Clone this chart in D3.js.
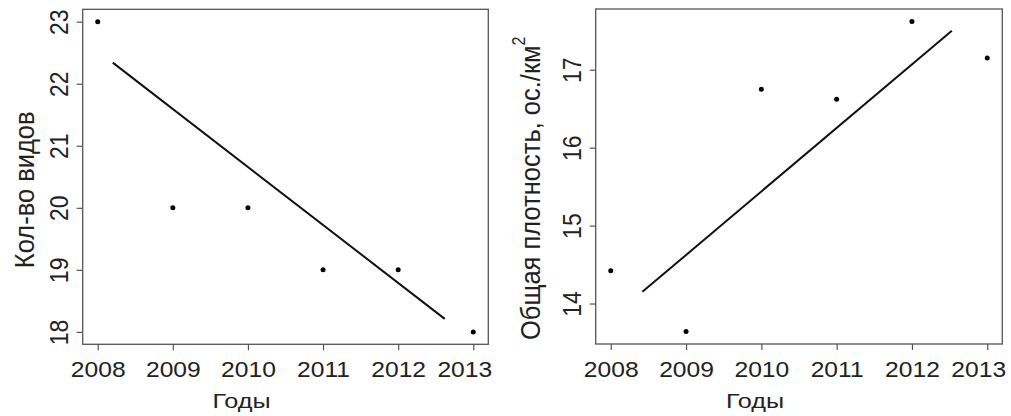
<!DOCTYPE html>
<html>
<head>
<meta charset="utf-8">
<script src="https://cdn.jsdelivr.net/npm/d3@7"></script>
<style>
  body { margin: 0; background: #fff; }
  text { font-family: "Liberation Sans", Arial, sans-serif; fill: #222; }
</style>
</head>
<body>
<div id="chart"></div>
<script>
// data
var years = [2008, 2009, 2010, 2011, 2012, 2013];
var speciesCount = [23, 20, 20, 19, 19, 18];
var density = [14.42, 13.64, 16.75, 16.62, 17.62, 17.15];

// ends of the fitted lines (x = year, y = value)
var speciesTrendX = [2008.2, 2012.62];
var speciesTrendY = [22.34, 18.21];
var densityTrendX = [2008.42, 2012.53];
var densityTrendY = [14.15, 17.5];

var xTicks = [2008, 2009, 2010, 2011, 2012, 2013];
var speciesTicks = [18, 19, 20, 21, 22, 23];
var densityTicks = [14, 15, 16, 17];

var xTitle = "Годы";
var speciesTitle = "Кол-во видов";
var densityTitle = "Общая плотность, ос./км";

var stretch = 1.12;   // the picture is a bit wider than tall

/*
 * R-style domain: data range widened by 4 % on both sides
 */
function padded(values) {
	var ext = d3.extent(values);
	var d = (ext[1] - ext[0]) * 0.04;
	return [ext[0] - d, ext[1] + d];
}

/*
 * One scatter panel with a box, ticks and a trend line
 */
function ScatterPanel() {

	var left = 0, top = 0, width = 100, height = 100;
	var yValues, yTicks, trendX, trendY;
	var yLabel, yLabelX = 30, yLabelY = 180, yLabelAnchor = "middle", sup = null;

	function chart(selection) {
		selection.each(function() {

			var g = d3.select(this).append("g")
				.attr("transform", "translate(" + left + "," + top + ")");

			var x = d3.scaleLinear().domain(padded(years)).range([0, width]);
			var y = d3.scaleLinear().domain(padded(yValues)).range([height, 0]);

			// x axis
			var ax = g.append("g")
				.attr("transform", "translate(0," + height + ")")
				.call(d3.axisBottom(x).tickValues(xTicks).tickFormat(d3.format("d")).tickSize(6));
			ax.select(".domain").remove();
			ax.selectAll(".tick line").attr("stroke", "#555").attr("stroke-width", 1.2);
			ax.selectAll(".tick text")
				.attr("y", 33).attr("dy", null)
				.attr("transform", function(d, i, n) {
					// last label pulled in a little, as in the original
					var shift = i === n.length - 1 ? -9 : 0;
					return "translate(" + shift + ",0) scale(" + stretch + ",1)";
				})
				.style("font-size", "22px");

			// y axis, labels turned like in R
			var ay = g.append("g")
				.call(d3.axisLeft(y).tickValues(yTicks).tickFormat(d3.format("d")).tickSize(6));
			ay.select(".domain").remove();
			ay.selectAll(".tick line").attr("stroke", "#555").attr("stroke-width", 1.2);
			ay.selectAll(".tick text")
				.attr("x", null).attr("dy", null)
				.attr("text-anchor", "middle")
				.attr("transform", "translate(-15,0) scale(" + stretch + ",1) rotate(-90)")
				.style("font-size", "23px");

			// box
			g.append("rect")
				.attr("width", width).attr("height", height)
				.attr("fill", "none").attr("stroke", "#555").attr("stroke-width", 1.3);

			// trend line
			var line = d3.line()
				.x(function(d) { return x(d[0]); })
				.y(function(d) { return y(d[1]); });
			g.append("path")
				.datum(d3.zip(trendX, trendY))
				.attr("d", line)
				.attr("fill", "none").attr("stroke", "#111").attr("stroke-width", 2);

			// points
			g.selectAll("circle.pt")
				.data(d3.zip(years, yValues))
				.join("circle")
				.attr("class", "pt")
				.attr("cx", function(d) { return x(d[0]); })
				.attr("cy", function(d) { return y(d[1]); })
				.attr("r", 2.5)
				.attr("fill", "#000");

			// axis titles
			g.append("text")
				.attr("transform", "translate(" + (width / 2 - 44) + "," + (height + 64) + ") scale(1.2,1)")
				.attr("text-anchor", "middle")
				.style("font-size", "21px")
				.text(xTitle);

			var t = g.append("text")
				.attr("transform", "translate(" + yLabelX + "," + yLabelY + ") scale(1.1,1) rotate(-90)")
				.attr("text-anchor", yLabelAnchor)
				.style("font-size", "25.5px")
				.text(yLabel);
			if (sup) {
				t.append("tspan").attr("dy", -13).style("font-size", "16px").text(sup);
			}
		});
	}

	chart.box = function(l, t, w, h) {
		left = l; top = t; width = w; height = h;
		return chart;
	};
	chart.values = function(v, ticks) {
		yValues = v; yTicks = ticks;
		return chart;
	};
	chart.trend = function(tx, ty) {
		trendX = tx; trendY = ty;
		return chart;
	};
	chart.label = function(text, lx, ly, anchor, s) {
		yLabel = text; yLabelX = lx; yLabelY = ly; yLabelAnchor = anchor; sup = s || null;
		return chart;
	};

	return chart;
}

var svg = d3.select("#chart").append("svg")
	.attr("width", 1011).attr("height", 416);

var leftPanel = ScatterPanel()
	.box(82.7, 9.3, 405.6, 335)
	.values(speciesCount, speciesTicks)
	.trend(speciesTrendX, speciesTrendY)
	.label(speciesTitle, -48.7, 180.5, "middle");

var rightPanel = ScatterPanel()
	.box(595.7, 9, 406.6, 335)
	.values(density, densityTicks)
	.trend(densityTrendX, densityTrendY)
	.label(densityTitle, -56, 331, "start", "2");

svg.datum([0]).call(leftPanel);
svg.datum([0]).call(rightPanel);
</script>
</body>
</html>
